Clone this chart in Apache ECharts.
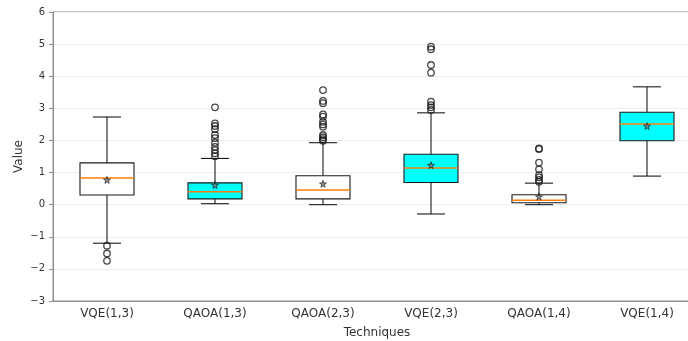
<!DOCTYPE html>
<html>
<head>
<meta charset="utf-8">
<script src="https://cdn.jsdelivr.net/npm/echarts@6/dist/echarts.min.js"></script>
<style>html,body{margin:0;padding:0;background:#fff;overflow:hidden;width:688px;height:341px}#c{width:720px;height:341px}</style>
</head>
<body>
<div id="c"></div>
<script>
var categories = ['VQE(1,3)', 'QAOA(1,3)', 'QAOA(2,3)', 'VQE(2,3)', 'QAOA(1,4)', 'VQE(1,4)'];
var whiskerLow  = [-1.20, 0.03, 0.00, -0.29, 0.00, 0.89];
var q1          = [0.30, 0.18, 0.18, 0.69, 0.06, 1.99];
var median      = [0.83, 0.40, 0.46, 1.14, 0.14, 2.51];
var q3          = [1.30, 0.68, 0.90, 1.57, 0.31, 2.88];
var whiskerHigh = [2.73, 1.44, 1.93, 2.86, 0.67, 3.67];
var means       = [0.77, 0.61, 0.65, 1.23, 0.25, 2.45];
var outliers = [
  [-1.28, -1.52, -1.75],
  [3.03, 2.53, 2.45, 2.35, 2.17, 2.07, 1.93, 1.80, 1.70, 1.60, 1.51],
  [3.57, 3.23, 3.16, 2.81, 2.74, 2.58, 2.50, 2.43, 2.17, 2.10, 2.04, 1.99],
  [4.92, 4.84, 4.35, 4.11, 3.21, 3.10, 3.03, 2.95],
  [1.75, 1.73, 1.31, 1.10, 0.92, 0.85, 0.77, 0.71],
  []
];
var yTicks = [-3, -2, -1, 0, 1, 2, 3, 4, 5, 6];

var boxData = categories.map(function (c, i) {
  return [i, whiskerLow[i], q1[i], median[i], q3[i], whiskerHigh[i]];
});
var outlierData = [];
outliers.forEach(function (arr, i) { arr.forEach(function (v) { outlierData.push([i, v]); }); });
var meanData = means.map(function (v, i) { return [i, v]; });

var starPath = 'path://M50,0 L61,35 L98,35 L68,57 L79,91 L50,70 L21,91 L32,57 L2,35 L39,35 Z';

var chart = echarts.init(document.getElementById('c'), null, {renderer: 'canvas'});
chart.setOption({
  animation: false,
  backgroundColor: '#fff',
  textStyle: {fontFamily: 'DejaVu Sans'},
  grid: {left: 53, top: 12, width: 648, height: 289, containLabel: false, outerBoundsMode: 'none',
    show: true, borderColor: '#8f8f8f', borderWidth: 1, backgroundColor: 'transparent'},
  xAxis: {
    type: 'category', data: categories, boundaryGap: true,
    name: 'Techniques', nameLocation: 'middle', nameGap: 26, nameMoveOverlap: false,
    nameTextStyle: {fontSize: 12, color: '#333', fontFamily: 'DejaVu Sans'},
    axisLine: {onZero: false, lineStyle: {color: '#8f8f8f', width: 1}},
    axisTick: {alignWithLabel: true, length: 4, lineStyle: {color: '#8f8f8f'}},
    axisLabel: {fontSize: 12, color: '#333', margin: 7, fontFamily: 'DejaVu Sans'},
    splitLine: {show: false}
  },
  yAxis: {
    type: 'value', min: -3, max: 6, interval: 1,
    name: 'Value', nameLocation: 'middle', nameGap: 28, nameMoveOverlap: false,
    nameTextStyle: {fontSize: 12, color: '#333', fontFamily: 'DejaVu Sans'},
    axisLine: {show: true, lineStyle: {color: '#8f8f8f', width: 1}},
    axisTick: {show: true, length: 4, lineStyle: {color: '#8f8f8f'}},
    axisLabel: {fontSize: 10, color: '#333', margin: 8, fontFamily: 'DejaVu Sans',
      formatter: function (v) { return yTicks.indexOf(v) >= 0 ? (v < 0 ? '\u2212' + Math.abs(v) : String(v)) : ''; }},
    splitLine: {show: true, lineStyle: {color: '#eeeeee', width: 1}}
  },
  series: [
    {
      type: 'custom',
      data: boxData,
      z: 2,
      renderItem: function (params, api) {
        var idx = api.value(0);
        var band = api.size([1, 0])[0];
        var hw = band * 0.25, cw = band * 0.13;
        var pLow = api.coord([idx, api.value(1)]);
        var pQ1 = api.coord([idx, api.value(2)]);
        var pMed = api.coord([idx, api.value(3)]);
        var pQ3 = api.coord([idx, api.value(4)]);
        var pHigh = api.coord([idx, api.value(5)]);
        var x = pQ1[0];
        var fill = idx % 2 === 1 ? '#00ffff' : '#ffffff';
        var ls = {stroke: '#1a1a1a', lineWidth: 1.1};
        return {
          type: 'group',
          children: [
            {type: 'line', shape: {x1: x, y1: pQ1[1], x2: x, y2: pLow[1]}, style: ls},
            {type: 'line', shape: {x1: x, y1: pQ3[1], x2: x, y2: pHigh[1]}, style: ls},
            {type: 'line', shape: {x1: x - cw, y1: pLow[1], x2: x + cw, y2: pLow[1]}, style: ls},
            {type: 'line', shape: {x1: x - cw, y1: pHigh[1], x2: x + cw, y2: pHigh[1]}, style: ls},
            {type: 'rect', shape: {x: x - hw, y: pQ3[1], width: 2 * hw, height: pQ1[1] - pQ3[1]},
              style: {fill: fill, stroke: '#1a1a1a', lineWidth: 1.1}},
            {type: 'line', shape: {x1: x - hw, y1: pMed[1], x2: x + hw, y2: pMed[1]},
              style: {stroke: '#ff7f0e', lineWidth: 1.5}}
          ]
        };
      }
    },
    {
      type: 'scatter', data: outlierData, z: 3,
      symbol: 'circle', symbolSize: 6.5,
      itemStyle: {color: 'rgba(255,255,255,0)', borderColor: '#1a1a1a', borderWidth: 1.3}
    },
    {
      type: 'scatter', data: meanData, z: 4,
      symbol: starPath, symbolSize: 7,
      itemStyle: {color: '#777', borderColor: '#111', borderWidth: 0.8}
    }
  ]
});
</script>
</body>
</html>
